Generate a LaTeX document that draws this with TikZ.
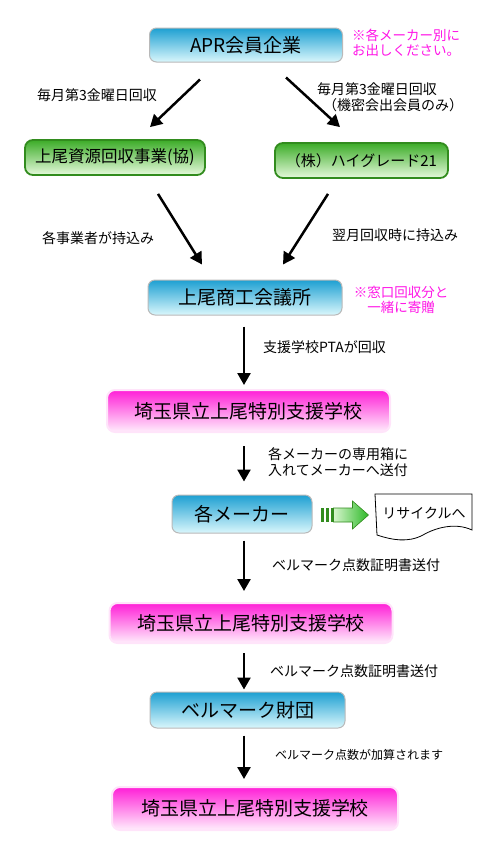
\documentclass[tikz,border=0pt]{standalone}
\usepackage{fontspec}
\setmainfont{Noto Sans CJK JP}
\usetikzlibrary{arrows.meta,calc,shadings}

\definecolor{bluetop}{RGB}{30,160,210}
\definecolor{bluebot}{RGB}{218,247,252}
\definecolor{greentop}{RGB}{60,172,40}
\definecolor{greenbot}{RGB}{230,250,220}
\definecolor{greenline}{RGB}{50,140,30}
\definecolor{pinktop}{RGB}{255,30,215}
\definecolor{pinkbot}{RGB}{255,238,252}
\definecolor{notepink}{RGB}{255,20,230}

\begin{document}
\begin{tikzpicture}[x=1pt, y=-1pt,
    bluebox/.style={draw=gray!55, line width=1pt, rounded corners=7pt, inner sep=0pt,
        top color=bluetop, bottom color=bluebot, font=\fontsize{19}{22}\selectfont},
    greenbox/.style={draw=greenline, line width=1.8pt, rounded corners=8pt, inner sep=0pt,
        top color=greentop, bottom color=greenbot, font=\fontsize{16.5}{18}\selectfont},
    pinkbox/.style={draw=pinktop!12, line width=2pt, rounded corners=8pt, inner sep=0pt,
        top color=pinktop, bottom color=pinkbot, font=\fontsize{19}{22}\selectfont},
    flow/.style={line width=2.5pt, -{Triangle[length=12pt,width=13pt]}},
    lbl/.style={inner sep=0pt, font=\fontsize{14}{16}\selectfont},
    note/.style={inner sep=0pt, text=notepink, align=center, font=\fontsize{13.5}{15.5}\selectfont}]

\useasboundingbox (0,0) rectangle (500,863);

% APR members
\node[bluebox, minimum width=193pt, minimum height=34pt] (apr) at (246,45) {APR会員企業};
\node[note] (note1) at (406,43) {※各メーカー別に\\お出しください。};

% collectors
\node[greenbox, minimum width=180pt, minimum height=35pt] (kamio) at (115,157.5) {上尾資源回収事業(協)};
\node[greenbox, minimum width=173pt, minimum height=35pt, font=\fontsize{15}{17}\selectfont] (highgrade) at (361.5,160.5) {（株）ハイグレード21};

% chamber of commerce
\node[bluebox, minimum width=194pt, minimum height=35pt] (shoko) at (245,297.5) {上尾商工会議所};
\node[note] (note2) at (401,300) {※窓口回収分と\\一緒に寄贈};

% school
\node[pinkbox, minimum width=283pt, minimum height=42pt] (school1) at (248.5,411) {埼玉県立上尾特別支援学校};

% makers
\node[bluebox, minimum width=140pt, minimum height=38pt] (maker) at (242,514) {各メーカー};

% recycle sheet
\draw[line width=0.8pt, fill=white] (375,494) -- (472,494) -- (472,530)
    .. controls (455,522) and (435,528) .. (423,535)
    .. controls (408,543) and (392,540) .. (377,535) -- cycle;
\node[inner sep=0pt, font=\fontsize{14}{16}\selectfont] (recycle) at (424,513) {リサイクルへ};

% green block arrow
\begin{scope}[shift={($(maker.east)+(8,1)$)}]
    \fill[greenline] (0,-7) rectangle (3,7);
    \fill[greenline] (5,-7) rectangle (8,7);
    \fill[greenline] (10,-7) rectangle (13,7);
    \draw[greenline, line width=0.6pt, left color={rgb,255:red,215;green,245;blue,205},
        right color={rgb,255:red,45;green,185;blue,40}]
        (13,-7) -- (32,-7) -- (32,-14) -- (48,0) -- (32,14) -- (32,7) -- (13,7) -- cycle;
\end{scope}

% school again
\node[pinkbox, minimum width=283pt, minimum height=40pt] (school2) at (251,623) {埼玉県立上尾特別支援学校};

% bellmark foundation
\node[bluebox, minimum width=195pt, minimum height=36pt] (bellmark) at (247.5,710) {ベルマーク財団};

% school at the end
\node[pinkbox, minimum width=286pt, minimum height=43pt] (school3) at (255,808.5) {埼玉県立上尾特別支援学校};

% Flows
\draw[flow] ($(apr.south)+(-46,17)$) -- ($(kamio.north)+(35,-12)$);
\draw[flow] ($(apr.south)+(40,15)$) -- ($(highgrade.north)+(-21.5,-15)$);
\draw[flow] ($(kamio.south)+(43,18)$) -- ($(shoko.north)+(-43,-15)$);
\draw[flow] ($(highgrade.south)+(-33.5,15)$) -- ($(shoko.north)+(38,-15)$);
\draw[flow] ($(shoko.south)+(-1,11)$) -- ($(school1.north)+(-4.5,-4)$);
\draw[flow] ($(school1.south)+(-4.5,13)$) -- ($(maker.north)+(2,-13)$);
\draw[flow] ($(maker.south)+(2,7)$) -- ($(school2.north)+(-7,-11)$);
\draw[flow] ($(school2.south)+(-7,9)$) -- ($(bellmark.north)+(-3.5,-2)$);
\draw[flow] ($(bellmark.south)+(-3.5,7)$) -- ($(school3.north)+(-11,-7)$);

% Flow labels
\node[lbl] (monthly1) at (97,95) {毎月第3金曜日回収};
\node[lbl, anchor=north west, align=left] (monthly2) at (317,82) {毎月第3金曜日回収\\\hspace{6pt}（機密会出会員のみ）};
\node[lbl] (bring1) at (98,238) {各事業者が持込み};
\node[lbl] (bring2) at (395,235) {翌月回収時に持込み};
\node[lbl, anchor=west] (pta) at (263,347) {支援学校PTAが回収};
\node[lbl, anchor=west, align=left] (send) at (268,462) {各メーカーの専用箱に\\入れてメーカーへ送付};
\node[lbl, anchor=west] (cert1) at (272,565) {ベルマーク点数証明書送付};
\node[lbl, anchor=west] (cert2) at (270,671) {ベルマーク点数証明書送付};
\node[lbl, anchor=west, font=\fontsize{12}{14}\selectfont] (points) at (275,755) {ベルマーク点数が加算されます};

\end{tikzpicture}
\end{document}
